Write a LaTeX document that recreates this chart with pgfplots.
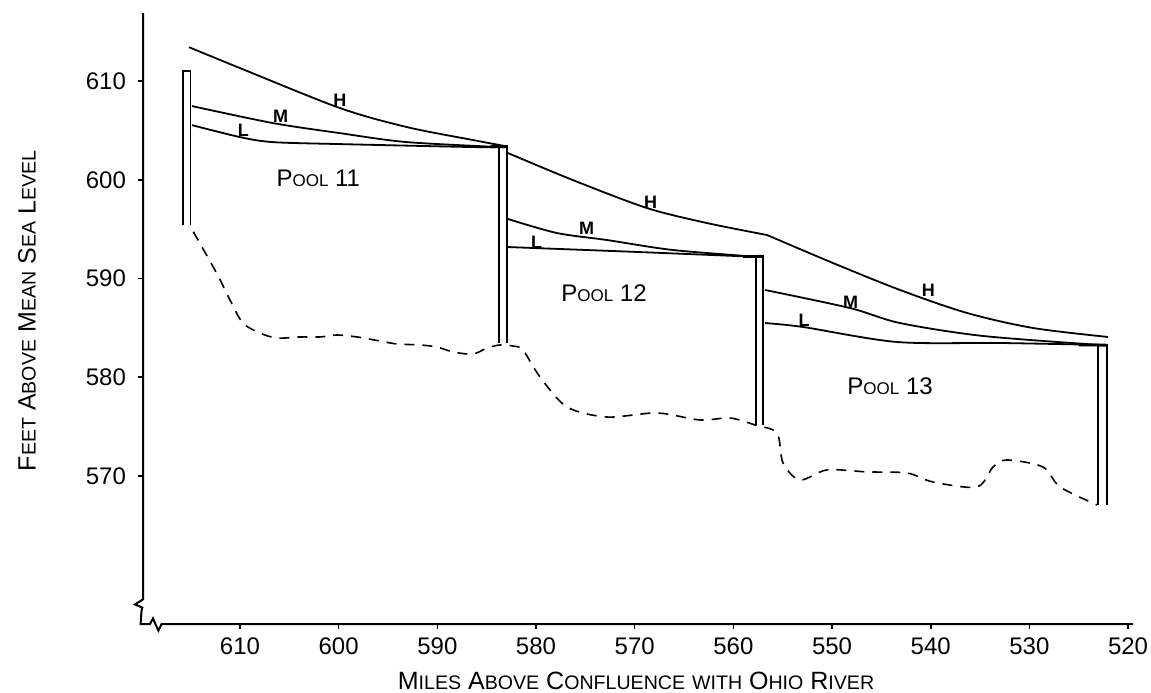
\documentclass[border=0pt]{standalone}
\usepackage{fontspec}
\setmainfont{Liberation Sans}
\usepackage{pgfplots}
\pgfplotsset{compat=1.18}
\newcommand{\SC}[1]{{\fontsize{9.8pt}{10pt}\selectfont #1}}
\newcommand{\PSC}[1]{{\fontsize{8.5pt}{10pt}\selectfont #1}}
\begin{document}
\begin{tikzpicture}
\path[use as bounding box] (-71.5pt,-34pt) rectangle (504pt,312pt);
\begin{axis}[
  at={(0,0)}, anchor=south west, scale only axis,
  width=495pt, height=305.5pt,
  x dir=reverse, xmin=519.5, xmax=619.83, ymin=555, ymax=616.9,
  axis lines=left, axis line style={draw=none},
  xtick={520,530,...,610}, ytick={570,580,...,610},
  tick align=outside, major tick length=2.5pt,
  tick style={black, line width=0.8pt},
  /pgf/number format/assume math mode=true,
  ticklabel style={font=\fontsize{12pt}{14pt}\selectfont},
  xticklabel style={anchor=north, yshift=-1pt},
  yticklabel style={anchor=east, xshift=-2.5pt},
  xlabel={\fontsize{12.5pt}{14pt}\selectfont M\SC{ILES} A\SC{BOVE} C\SC{ONFLUENCE} \SC{WITH} O\SC{HIO} R\SC{IVER}},
  ylabel={\fontsize{12.5pt}{14pt}\selectfont F\SC{EET} A\SC{BOVE} M\SC{EAN} S\SC{EA} L\SC{EVEL}},
  xlabel style={at={(rel axis cs:0.498,0)}, anchor=center, yshift=-28.5pt},
  ylabel style={at={(rel axis cs:0,0.5123)}, anchor=center, rotate=0, yshift=58pt},
  clip=false,
  every axis plot/.append style={black, line width=0.9pt},
]
% ---- Pool 11 water surfaces
\addplot[smooth] coordinates {(615.17,613.44) (610,611.32) (599.87,607.27) (593.07,605.34) (586.39,604.03) (583.14,603.42)};
\addplot[smooth] coordinates {(614.86,607.47) (606.66,605.75) (599.87,604.73) (593.07,603.82) (583.14,603.3)};
\addplot[smooth] coordinates {(614.86,605.54) (610,604.33) (606.66,603.82) (599.87,603.62) (586.39,603.32) (583.14,603.3)};
% ---- Pool 12 water surfaces
\addplot[smooth] coordinates {(582.84,602.71) (576.25,599.97) (568.75,597.14) (562.67,595.62) (556.59,594.41)};
\addplot[smooth] coordinates {(556.59,594.41) (549.9,591.57) (543.11,588.84) (536.32,586.51) (529.63,584.99) (522.03,584.08)};
\addplot[smooth] coordinates {(582.84,596.03) (577.87,594.61) (572.8,593.9) (566.12,592.89) (557.3,592.18)};
\addplot[smooth] coordinates {(582.84,593.19) (569.46,592.68) (557.3,592.18)};
% ---- Pool 13 water surfaces
\addplot[smooth] coordinates {(556.79,588.84) (548.18,587.01) (543.11,585.49) (534.7,584.18) (522.84,583.27)};
\addplot[smooth] coordinates {(556.79,585.49) (552.94,585.09) (543.41,583.57) (532.97,583.47) (522.54,583.27)};
% ---- Dams
\addplot[line width=0.8pt] coordinates {(615.8,595.4) (615.8,611.0) (615.0,611.0) (615.0,595.4)};
\addplot[line width=0.8pt] coordinates {(583.75,583.47) (583.75,603.42) (582.94,603.42) (582.94,583.47)};
\addplot[line width=0.8pt] coordinates {(557.7,575.16) (557.7,592.28) (556.99,592.28) (556.99,575.16)};
\addplot[line width=0.8pt] coordinates {(523.04,567.06) (523.04,583.27) (522.13,583.27) (522.13,567.06)};
\addplot[line width=1.4pt] coordinates {(584.6,603.36) (582.94,603.38)};
\addplot[line width=1.4pt] coordinates {(559,592.22) (556.99,592.25)};
\addplot[line width=1.4pt] coordinates {(525,583.27) (522.13,583.25)};
% ---- River bed
\addplot[smooth, dashed, dash pattern=on 5pt off 4pt, line width=0.8pt] coordinates {
(614.73,594.74) (612.36,590.53) (611.01,587.82) (609.7,585.49) (607.97,584.48)
(606.25,583.97) (603.92,584.08) (601.89,584.08) (600.17,584.28) (598.14,584.08)
(595.81,583.67) (594.09,583.37) (591.76,583.27) (590.03,583.06) (588.41,582.56)
(586.39,582.35) (584.97,582.96) (583.65,583.27) (582.33,583.16) (581.32,582.76)
(579.6,580.03) (576.86,576.99) (572.8,575.97) (567.74,576.38) (563.38,575.67)
(560.34,575.87) (557.8,575.16) (555.58,574.35) (554.97,571.32) (553.25,569.59)
(550.51,570.61) (546.45,570.41) (542.4,570.3) (539.77,569.39) (535.31,568.89)
(533.68,570.91) (532.27,571.62) (528.62,570.91) (526.9,568.89) (523.14,567.06)};
% ---- Labels
\begin{scope}[every node/.style={font=\bfseries\fontsize{9pt}{10pt}\selectfont}]
\node at (axis cs:599.87,608.08) {H};
\node at (axis cs:605.88,606.46) {M};
\node at (axis cs:609.66,605.04) {L};
\node at (axis cs:568.38,597.68) {H};
\node at (axis cs:574.86,595.08) {M};
\node at (axis cs:579.93,593.7) {L};
\node at (axis cs:540.24,588.76) {H};
\node at (axis cs:548.11,587.55) {M};
\node at (axis cs:552.84,585.73) {L};
\end{scope}
\begin{scope}[every node/.style={font=\fontsize{12pt}{14pt}\selectfont}]
\node at (axis cs:602.06,600.15) {P\PSC{OOL} 11};
\node at (axis cs:573.11,588.5) {P\PSC{OOL} 12};
\node at (axis cs:544.12,579.04) {P\PSC{OOL} 13};
\end{scope}
\end{axis}
% axis lines with break symbols
\draw[line width=1pt] (0,305.5pt) -- (0,12.3pt) -- (-4pt,9.8pt) -- (-0.3pt,8.2pt) -- (-0.7pt,7pt) -- (-1.2pt,0) -- (3.5pt,0) -- (5pt,2.8pt) -- (6.2pt,0) -- (7.7pt,-3.3pt) -- (9.3pt,0) -- (495pt,0);
\end{tikzpicture}
\end{document}
